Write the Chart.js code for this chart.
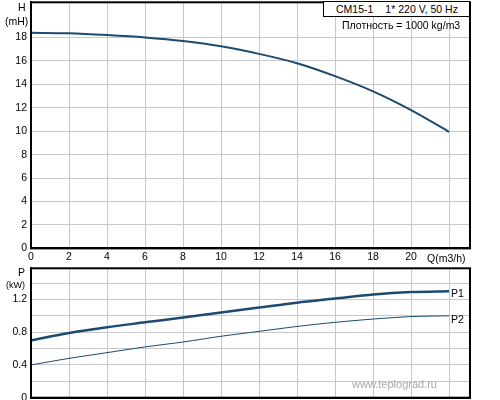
<!DOCTYPE html>
<html><head><meta charset="utf-8">
<script src="https://cdn.jsdelivr.net/npm/chart.js@4"></script>
<style>
body{margin:0;background:#fff;font-family:"Liberation Sans",Arial,sans-serif;overflow:hidden;}
#wrap{position:relative;width:500px;height:400px;overflow:hidden;}
canvas{position:absolute;left:0;}
.t{position:absolute;font-size:10.5px;color:#000;}
#box{position:absolute;left:323px;top:1px;width:145px;height:14px;border:1px solid #000;background:#fff;font-size:10.5px;line-height:14px;}
</style></head>
<body><div id="wrap">
<canvas id="top" style="top:-8px"></canvas>
<canvas id="bot" style="top:258px"></canvas>
<div class="t" style="left:18px;top:1px">H</div>
<div class="t" style="left:5px;top:15px">(mH)</div>
<div class="t" style="left:18px;top:266px">P</div>
<div class="t" style="left:6px;top:280px;font-size:9px">(kW)</div>
<div class="t" style="left:427px;top:252px">Q(m3/h)</div>
<div id="box"><span style="margin-left:12px">CM15-1</span><span style="margin-left:12px">1* 220 V, 50 Hz</span></div>
<div class="t" style="left:342px;top:19px">Плотность = 1000 kg/m3</div>
<div class="t" style="left:451px;top:287px">P1</div>
<div class="t" style="left:451px;top:313px">P2</div>
<div class="t" style="left:352px;top:378px;color:#aaa;font-size:11px">www.teplograd.ru</div>
</div>
<script>
const flow = [0, 2, 4, 6, 8, 10, 12, 14, 16, 18, 20, 22];
const head = [18.4, 18.35, 18.2, 18.0, 17.7, 17.25, 16.6, 15.8, 14.7, 13.4, 11.8, 9.95];
const powerP1 = [0.70, 0.79, 0.86, 0.92, 0.98, 1.04, 1.10, 1.16, 1.21, 1.26, 1.29, 1.30];
const powerP2 = [0.40, 0.48, 0.55, 0.62, 0.68, 0.75, 0.81, 0.87, 0.92, 0.96, 0.99, 1.00];

const curveColor = '#1c4a70';
const font = {family: 'Liberation Sans, Arial', size: 10.5};
const pts = ys => flow.map((q, i) => ({x: q, y: ys[i]}));
const fixW = s => { s.width = 31; };

function makeChart(id, w, h, datasets, yMax, yStep, yShow, showX) {
  const c = document.getElementById(id);
  c.width = w; c.height = h; c.style.width = w + 'px'; c.style.height = h + 'px';
  return new Chart(c, {
    type: 'line',
    data: {datasets},
    options: {
      responsive: false, animation: false,
      layout: {padding: {top: 1, right: 30, bottom: 0, left: 0}},
      plugins: {legend: {display: false}, tooltip: {enabled: false}},
      elements: {point: {radius: 0}, line: {tension: 0.3}},
      scales: {
        x: {type: 'linear', min: 0, max: 23.1,
          afterBuildTicks: s => { s.ticks = flow.map(v => ({value: v})); },
          grid: {color: '#c8c8c8', drawTicks: false},
          border: {color: '#000', width: 2},
          ticks: {display: showX, color: '#000', font, padding: 2, maxRotation: 0,
            callback: v => v === 22 ? '' : v}},
        y: {min: 0, max: yMax, afterFit: fixW,
          grid: {color: '#c8c8c8', drawTicks: false},
          border: {color: '#000', width: 2},
          ticks: {stepSize: yStep, color: '#000', font, padding: 4,
            callback: v => yShow(v) ? v : ''}}
      }
    },
    plugins: [{id: 'frame', afterDraw(ch) {
      const a = ch.chartArea, x = ch.ctx;
      x.save(); x.strokeStyle = '#000'; x.lineWidth = 2;
      x.strokeRect(a.left, a.top, a.right - a.left, a.bottom - a.top); x.restore();
    }}]
  });
}

makeChart('top', 500, 273,
  [{data: pts(head), borderColor: curveColor, borderWidth: 2}],
  21, 2, v => v <= 18, true);
makeChart('bot', 500, 150,
  [{data: pts(powerP1), borderColor: curveColor, borderWidth: 2.5},
   {data: pts(powerP2), borderColor: curveColor, borderWidth: 1}],
  1.58, 0.2, v => Math.abs(v * 10 % 4) < 0.01 && v < 1.4, false);
</script>
</body></html>
